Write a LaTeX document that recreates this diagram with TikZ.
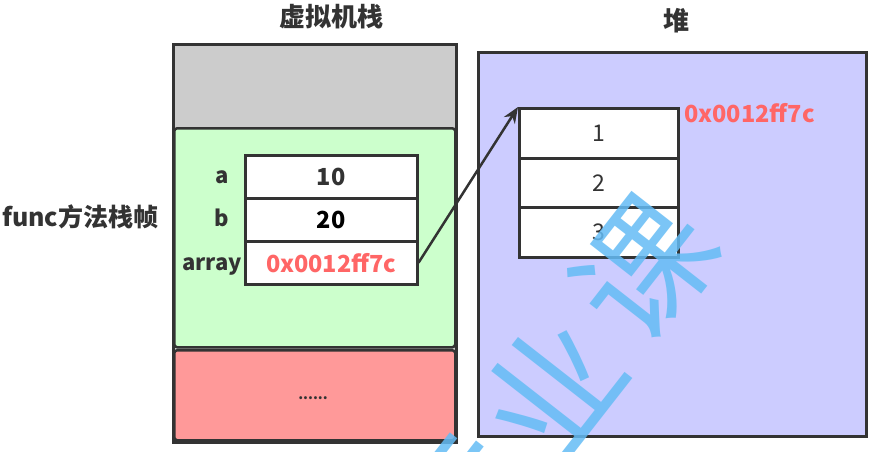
\documentclass[tikz,border=0pt]{standalone}
\usepackage{fontspec}
\setmainfont{Noto Sans CJK SC}
\newfontfamily\wmfont{Noto Sans CJK SC}
\usetikzlibrary{arrows.meta}
\definecolor{ink}{HTML}{333333}
\definecolor{stackgray}{HTML}{CCCCCC}
\definecolor{framegreen}{HTML}{CCFFCC}
\definecolor{restred}{HTML}{FF9999}
\definecolor{heapblue}{HTML}{CCCCFF}
\definecolor{addrred}{HTML}{FF6666}
\definecolor{wmblue}{RGB}{100,188,245}
\tikzset{
  frame/.style={draw=ink, line width=3pt, rectangle, inner sep=0pt, anchor=north west},
  cell/.style={draw=ink, line width=2.5pt, fill=white, rectangle, inner sep=0pt, anchor=north west, text=ink},
  valfont/.style={font=\bfseries\fontsize{23.5}{26}\selectfont},
  numfont/.style={font=\fontsize{23}{26}\selectfont},
  lbl/.style={text=ink, font=\bfseries\fontsize{22}{24}\selectfont, inner sep=0pt, anchor=base east},
  title/.style={text=ink, font=\bfseries\fontsize{26}{28}\selectfont, inner sep=0pt},
  wm/.style={text=wmblue, opacity=0.85, font=\wmfont\fontsize{135}{140}\selectfont, inner sep=0pt, rotate=52},
}
\begin{document}
\begin{tikzpicture}[x=1pt,y=-1pt]
\useasboundingbox (0,0) rectangle (881,452);
% titles
\node[title] (tvm) at (331,17) {虚拟机栈};
\node[title] (theap) at (676,21) {堆};
% VM stack
\node[frame, fill=stackgray, minimum width=283pt, minimum height=398pt] (vm) at (172,43) {};
\node[draw=ink, line width=2.5pt, fill=framegreen, rounded corners=3pt, rectangle, anchor=north west, minimum width=281pt, minimum height=219pt] (green) at (173,127) {};
\node[draw=ink, line width=2.5pt, fill=restred, rounded corners=3pt, rectangle, anchor=north west, minimum width=281pt, minimum height=90pt] (red) at (173,349) {};
\node[frame, minimum width=283pt, minimum height=398pt] (vmb) at (172,43) {};
\node[text=ink, font=\bfseries\fontsize{14}{16}\selectfont, inner sep=0pt] (dots) at (313,398) {......};
% local variable table
\node[cell, minimum width=172pt, minimum height=43pt, valfont] (ca) at (244,154) {10};
\node[cell, minimum width=172pt, minimum height=43pt, valfont, text=black] (cb) at (244,197) {20};
\node[cell, minimum width=172pt, minimum height=43pt, valfont, text=addrred] (cc) at (244,240) {0x0012ff7c};
\node[lbl] (la) at (229,183) {a};
\node[lbl] (lb) at (229,226) {b};
\node[lbl] (lc) at (242,270) {array};
\node[title, anchor=west, font=\bfseries\fontsize{25}{28}\selectfont] (func) at (2,217) {func方法栈帧};
% heap
\node[frame, fill=heapblue, minimum width=388pt, minimum height=384pt] (heap) at (477,51) {};
\node[cell, minimum width=159pt, minimum height=50pt, numfont] (h1) at (518,107) {1};
\node[cell, minimum width=159pt, minimum height=49pt, numfont] (h2) at (518,157) {2};
\node[cell, minimum width=159pt, minimum height=50pt, numfont] (h3) at (518,206) {3};
\node[anchor=west, text=addrred, inner sep=0pt, valfont] (haddr) at (684,113) {0x0012ff7c};
% reference arrow
\draw[draw=ink, line width=2.5pt, -{Stealth[length=16pt,width=13pt]}] (cc.east) -- (h1.north west);
% watermark
\begin{scope}
\clip (0,0) rectangle (881,452);
\node[wm] (w1) at (458,500) {专};
\node[wm] (w2) at (550,390) {业};
\node[wm] (w3) at (645,268) {课};
\end{scope}
\end{tikzpicture}
\end{document}
